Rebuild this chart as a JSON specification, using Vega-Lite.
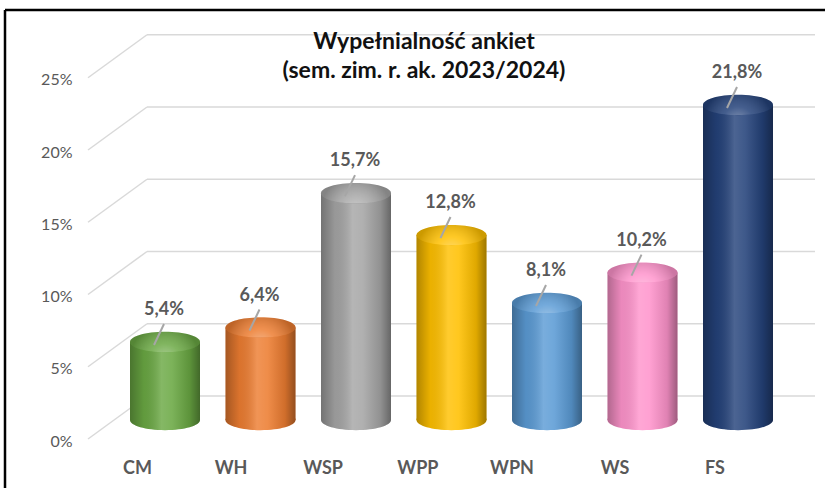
{
  "$schema": "https://vega.github.io/schema/vega-lite/v6.json",
  "width": 820,
  "height": 478,
  "autosize": "none",
  "padding": {"left": 5, "top": 10, "right": 0, "bottom": 0},
  "background": "white",
  "config": {
    "locale": {"number": {"decimal": ",", "thousands": " ", "grouping": [3], "currency": ["", " zł"]}},
    "font": "Lato",
    "view": {"stroke": "#000000", "strokeWidth": 2.5, "strokeDash": [820, 1298, 478, 0]}
  },
  "title": {
    "text": ["Wypełnialność ankiet", "(sem. zim. r. ak. 2023/2024)"],
    "fontSize": 23,
    "fontWeight": "bold",
    "color": "#111111",
    "font": "Lato",
    "lineHeight": 29,
    "anchor": "middle",
    "frame": "group",
    "baseline": "top",
    "dx": 9,
    "dy": 77
  },
  "datasets": {
    "d": [
      {"k": "CM", "v": 0.054},
      {"k": "WH", "v": 0.064},
      {"k": "WSP", "v": 0.157},
      {"k": "WPP", "v": 0.128},
      {"k": "WPN", "v": 0.081},
      {"k": "WS", "v": 0.102},
      {"k": "FS", "v": 0.218}
    ],
    "g": [{"v": 0}, {"v": 0.05}, {"v": 0.1}, {"v": 0.15}, {"v": 0.2}, {"v": 0.25}]
  },
  "layer": [
    {
      "data": {"name": "g"},
      "mark": {"type": "rule", "color": "#d9d9d9", "strokeWidth": 1.5, "xOffset": -18, "x2Offset": 77, "yOffset": -24},
      "encoding": {
        "x": {"datum": "CM", "type": "nominal"},
        "x2": {"datum": "FS"},
        "y": {"field": "v", "type": "quantitative"}
      }
    },
    {
      "data": {"name": "g"},
      "mark": {"type": "rule", "color": "#d9d9d9", "strokeWidth": 1.5, "xOffset": -77, "x2Offset": -18, "yOffset": 19, "y2Offset": -24},
      "encoding": {
        "x": {"datum": "CM", "type": "nominal"},
        "x2": {"datum": "CM"},
        "y": {"field": "v", "type": "quantitative"},
        "y2": {"field": "v"}
      }
    },
    {
      "data": {"name": "d"},
      "mark": {"type": "point", "shape": "M-1,0 C-1,-0.16 -0.5523,-0.29 0,-0.29 C0.5523,-0.29 1,-0.16 1,0 C1,0.16 0.5523,0.29 0,0.29 C-0.5523,0.29 -1,0.16 -1,0 Z", "size": 4900, "filled": true, "opacity": 1, "strokeWidth": 0},
      "encoding": {
        "x": {
          "field": "k", "type": "nominal",
          "scale": {"domain": ["CM", "WH", "WSP", "WPP", "WPN", "WS", "FS"], "range": [112.25, 780.75], "paddingInner": 0, "paddingOuter": 0},
          "axis": {"title": null, "domain": false, "ticks": false, "grid": false, "labelPadding": 48, "offset": -68, "labelOffset": -13, "labelFontSize": 18, "labelFontWeight": "bold", "labelColor": "#595959", "labelAngle": 0, "labelFont": "Lato"}
        },
        "y": {
          "datum": 0, "type": "quantitative",
          "scale": {"domain": [0, 0.25], "range": [410, 48.75], "nice": false, "zero": true},
          "axis": {"title": null, "format": ".0%", "values": [0, 0.05, 0.1, 0.15, 0.2, 0.25], "grid": false, "domain": false, "ticks": false, "labelPadding": 2, "offset": -69, "labelOffset": 21, "labelFontSize": 16, "labelColor": "#595959", "labelFont": "Lato"}
        },
        "color": {
          "field": "k", "type": "nominal",
          "scale": {"domain": ["CM", "WH", "WSP", "WPP", "WPN", "WS", "FS"], "range": ["#6aa843", "#ed7d31", "#a5a5a5", "#ffc000", "#5b9bd5", "#ff94cc", "#24427a"]},
          "legend": null
        }
      }
    },
    {
      "data": {"name": "d"},
      "mark": {"type": "point", "shape": "M-1,0 C-1,-0.16 -0.5523,-0.29 0,-0.29 C0.5523,-0.29 1,-0.16 1,0 C1,0.16 0.5523,0.29 0,0.29 C-0.5523,0.29 -1,0.16 -1,0 Z", "size": 4900, "filled": true, "opacity": 1, "strokeWidth": 0,
        "fill": {"gradient": "linear", "x1": 0, "y1": 0, "x2": 1, "y2": 0, "stops": [
          {"offset": 0, "color": "rgba(0,0,0,0.3)"},
          {"offset": 0.2, "color": "rgba(0,0,0,0.08)"},
          {"offset": 0.45, "color": "rgba(255,255,255,0.18)"},
          {"offset": 0.6, "color": "rgba(255,255,255,0.12)"},
          {"offset": 0.85, "color": "rgba(0,0,0,0.12)"},
          {"offset": 1, "color": "rgba(0,0,0,0.38)"}
        ]}},
      "encoding": {
        "x": {"field": "k", "type": "nominal"},
        "y": {"datum": 0, "type": "quantitative"}
      }
    },
    {
      "data": {"name": "d"},
      "mark": {"type": "bar", "width": 70},
      "encoding": {
        "x": {"field": "k", "type": "nominal"},
        "y": {"field": "v", "type": "quantitative"},
        "color": {"field": "k", "type": "nominal", "legend": null}
      }
    },
    {
      "data": {"name": "d"},
      "mark": {"type": "bar", "width": 70,
        "fill": {"gradient": "linear", "x1": 0, "y1": 0, "x2": 1, "y2": 0, "stops": [
          {"offset": 0, "color": "rgba(0,0,0,0.3)"},
          {"offset": 0.2, "color": "rgba(0,0,0,0.08)"},
          {"offset": 0.45, "color": "rgba(255,255,255,0.18)"},
          {"offset": 0.6, "color": "rgba(255,255,255,0.12)"},
          {"offset": 0.85, "color": "rgba(0,0,0,0.12)"},
          {"offset": 1, "color": "rgba(0,0,0,0.38)"}
        ]}},
      "encoding": {
        "x": {"field": "k", "type": "nominal"},
        "y": {"field": "v", "type": "quantitative"}
      }
    },
    {
      "data": {"name": "d"},
      "mark": {"type": "point", "shape": "M-1,0 C-1,-0.16 -0.5523,-0.29 0,-0.29 C0.5523,-0.29 1,-0.16 1,0 C1,0.16 0.5523,0.29 0,0.29 C-0.5523,0.29 -1,0.16 -1,0 Z", "size": 4900, "filled": true, "opacity": 1, "strokeWidth": 0},
      "encoding": {
        "x": {"field": "k", "type": "nominal"},
        "y": {"field": "v", "type": "quantitative"},
        "color": {"field": "k", "type": "nominal", "legend": null}
      }
    },
    {
      "data": {"name": "d"},
      "mark": {"type": "point", "shape": "M-1,0 C-1,-0.16 -0.5523,-0.29 0,-0.29 C0.5523,-0.29 1,-0.16 1,0 C1,0.16 0.5523,0.29 0,0.29 C-0.5523,0.29 -1,0.16 -1,0 Z", "size": 4900, "filled": true, "opacity": 1, "strokeWidth": 0,
        "fill": {"gradient": "radial", "x1": 0.5, "y1": 0.75, "r1": 0, "x2": 0.5, "y2": 0.75, "r2": 0.5, "stops": [
          {"offset": 0, "color": "rgba(255,255,255,0.45)"},
          {"offset": 0.45, "color": "rgba(255,255,255,0.15)"},
          {"offset": 1, "color": "rgba(0,0,0,0.2)"}
        ]}},
      "encoding": {
        "x": {"field": "k", "type": "nominal"},
        "y": {"field": "v", "type": "quantitative"}
      }
    },
    {
      "data": {"name": "d"},
      "mark": {"type": "rule", "color": "#a6a6a6", "strokeWidth": 2, "xOffset": -1, "x2Offset": -11, "yOffset": -18, "y2Offset": 3},
      "encoding": {
        "x": {"field": "k", "type": "nominal"},
        "x2": {"field": "k"},
        "y": {"field": "v", "type": "quantitative"},
        "y2": {"field": "v"}
      }
    },
    {
      "data": {"name": "d"},
      "mark": {"type": "text", "fontSize": 18, "fontWeight": "bold", "color": "#595959", "font": "Lato", "baseline": "middle", "align": "center", "yOffset": -32, "xOffset": -1},
      "encoding": {
        "x": {"field": "k", "type": "nominal"},
        "y": {"field": "v", "type": "quantitative"},
        "text": {"field": "v", "type": "quantitative", "format": ".1%"}
      }
    }
  ]
}
